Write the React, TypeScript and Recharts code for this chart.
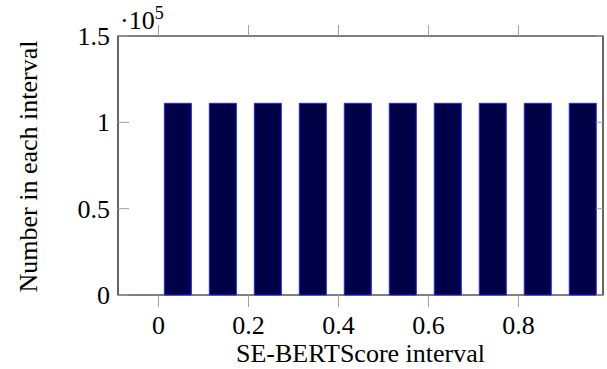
import { BarChart, Bar, XAxis, YAxis, ReferenceArea } from 'recharts';

// histogram of SE-BERTScore: interval centres and counts
const binCenters = [0.043, 0.143, 0.243, 0.343, 0.443, 0.543, 0.643, 0.743, 0.843, 0.943];
const counts = [111000, 111000, 111000, 111000, 111000, 111000, 111000, 111000, 111000, 111000];
const xTicks = [0, 0.2, 0.4, 0.6, 0.8];
const yTicks = [0, 50000, 100000, 150000];
const yTickLabels = ['0', '0.5', '1', '1.5'];

const data = binCenters.map((x, i) => ({ x, count: counts[i] }));

const W = 607;
const H = 369;
const MARGIN = { top: 36, right: 4, left: 0, bottom: 0 };
const Y_AXIS_W = 118;
const X_AXIS_H = 74;
const PLOT_TOP = MARGIN.top;
const PLOT_RIGHT = W - MARGIN.right;
const FONT = 'Liberation Serif, Times New Roman, serif';
const TICK_COLOR = '#a0a0a0';
const txt = { fontFamily: FONT, fontSize: 26, fill: '#000' };

const XTick = ({ x, y, payload }: any) => (
    <g>
        <line x1={x} x2={x} y1={y} y2={y + 12} stroke={TICK_COLOR} />
        <line x1={x} x2={x} y1={PLOT_TOP} y2={PLOT_TOP - 11} stroke={TICK_COLOR} />
        <text x={x} y={y + 39} textAnchor="middle" style={txt}>
            {payload.value}
        </text>
    </g>
);

const YTick = ({ x, y, payload, index }: any) => (
    <g>
        <line x1={x} x2={x + 11} y1={y} y2={y} stroke={TICK_COLOR} />
        <line x1={PLOT_RIGHT - 7} x2={PLOT_RIGHT} y1={y} y2={y} stroke={TICK_COLOR} />
        <text x={x - 8} y={y + 9} textAnchor="end" style={txt}>
            {yTickLabels[yTicks.indexOf(payload.value)] ?? index}
        </text>
        {payload.value === 150000 && (
            <text x={x + 2} y={y - 7} style={txt}>
                ·10<tspan style={{ fontSize: 18 }} dy={-10}>5</tspan>
            </text>
        )}
    </g>
);

const YTitle = ({ viewBox }: any) => {
    const cx = 37;
    const cy = viewBox.y + viewBox.height / 2 + 1;
    return (
        <text x={cx} y={cy} transform={`rotate(-90, ${cx}, ${cy})`} textAnchor="middle" style={txt}>
            Number in each interval
        </text>
    );
};

export default function App() {
    return (
        <div style={{ position: 'absolute', left: 0, top: 0, background: '#fff', fontFamily: FONT }}>
            <BarChart width={W} height={H} data={data} margin={MARGIN} style={{ fontFamily: FONT }}>
                <XAxis
                    type="number"
                    dataKey="x"
                    domain={[-0.09, 0.988]}
                    ticks={xTicks}
                    interval={0}
                    allowDataOverflow
                    height={X_AXIS_H}
                    axisLine={false}
                    tickLine={false}
                    tickSize={0}
                    tickMargin={0}
                    tick={<XTick />}
                    label={{
                        value: 'SE-BERTScore interval',
                        position: 'insideBottom',
                        offset: 7,
                        style: txt,
                    }}
                />
                <YAxis
                    type="number"
                    domain={[0, 150000]}
                    ticks={yTicks}
                    interval={0}
                    width={Y_AXIS_W}
                    axisLine={false}
                    tickLine={false}
                    tickSize={0}
                    tickMargin={0}
                    tick={<YTick />}
                    label={<YTitle />}
                />
                <Bar dataKey="count" barSize={27} fill="#000046" stroke="#2424ff" strokeWidth={1} isAnimationActive={false} />
                <ReferenceArea x1={-0.09} x2={0.988} y1={0} y2={150000} fill="none" stroke="#000" strokeWidth={1.2} ifOverflow="visible" />
            </BarChart>
        </div>
    );
}
